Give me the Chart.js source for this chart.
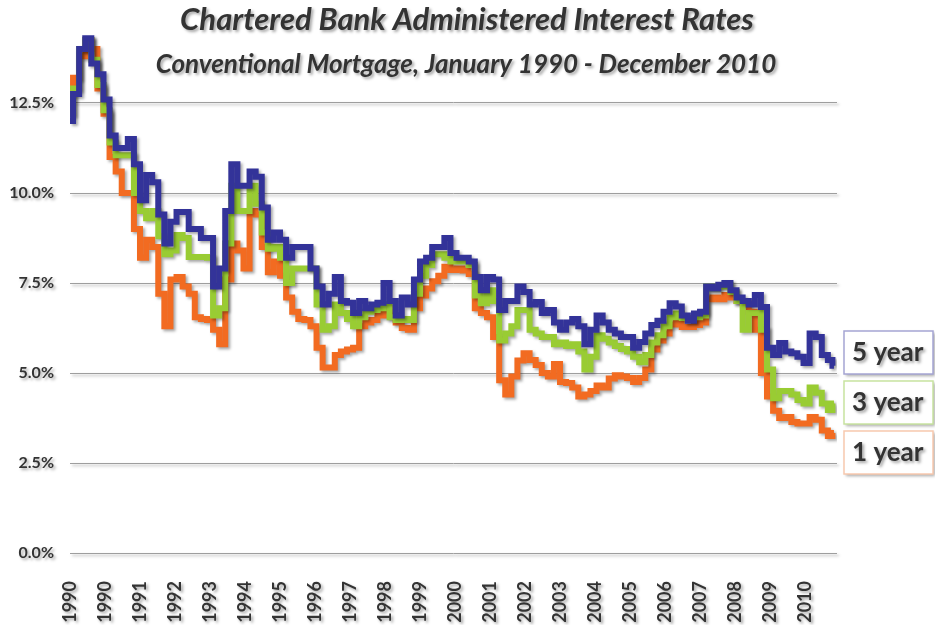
<!DOCTYPE html>
<html>
<head>
<meta charset="utf-8">
<title>Chartered Bank Administered Interest Rates</title>
<script src="https://cdn.jsdelivr.net/npm/chart.js@4.4.1/dist/chart.umd.min.js"></script>
<style>
  html, body { margin: 0; padding: 0; background: #fff; }
  #chart { display: block; }
</style>
</head>
<body>
<canvas id="chart" width="935" height="625"></canvas>
<script>
'use strict';

// month index counted from January 1990 (read every second month)
var months = [
  0, 2, 4, 6, 8, 10, 12, 14, 16, 18, 20, 22, 24, 26, 28, 30, 32, 34, 36, 38, 40, 42, 44, 46,
  48, 50, 52, 54, 56, 58, 60, 62, 64, 66, 68, 70, 72, 74, 76, 78, 80, 82, 84, 86, 88, 90, 92, 94,
  96, 98, 100, 102, 104, 106, 108, 110, 112, 114, 116, 118, 120, 122, 124, 126, 128, 130,
  132, 134, 136, 138, 140, 142, 144, 146, 148, 150, 152, 154, 156, 158, 160, 162, 164, 166,
  168, 170, 172, 174, 176, 178, 180, 182, 184, 186, 188, 190, 192, 194, 196, 198, 200, 202,
  204, 206, 208, 210, 212, 214, 216, 218, 220, 222, 224, 226, 228, 230, 232, 234, 236, 238,
  240, 242, 244, 246, 248, 250, 251
];

var rate5yr = [
  12.0, 12.75, 14.0, 14.3, 13.6, 13.3,
  12.6, 11.6, 11.25, 11.25, 11.5, 10.8,
  9.8, 10.5, 10.3, 9.4, 8.6, 9.2,
  9.47, 9.47, 9.0, 9.0, 8.75, 8.75,
  7.4, 7.9, 9.5, 10.8, 10.2, 10.2,
  10.6, 10.45, 9.6, 8.7, 8.9, 8.7,
  8.2, 8.5, 8.5, 8.5, 7.9, 7.4,
  6.9, 7.2, 7.67, 7.0, 6.95, 6.67,
  7.0, 6.8, 6.9, 6.95, 7.5, 7.0,
  6.6, 7.1, 6.9, 7.6, 8.1, 8.2,
  8.5, 8.5, 8.75, 8.33, 8.2, 8.2,
  8.1, 7.67, 7.3, 7.67, 7.6, 6.75,
  7.0, 7.0, 7.4, 7.25, 6.9, 6.97,
  6.67, 6.75, 6.4, 6.2, 6.4, 6.5,
  6.3, 5.8, 6.2, 6.6, 6.4, 6.2,
  6.1, 6.0, 6.0, 5.7, 5.86, 6.1,
  6.33, 6.45, 6.7, 6.94, 6.85, 6.6,
  6.45, 6.65, 6.7, 7.4, 7.35, 7.45,
  7.5, 7.3, 7.1, 7.0, 6.9, 7.17,
  6.83, 5.7, 5.5, 5.83, 5.6, 5.55,
  5.45, 5.28, 6.1, 6.0, 5.5, 5.36, 5.2
];

var rate3yr = [
  12.2, 12.9, 14.0, 14.25, 13.7, 13.0,
  12.3, 11.4, 11.05, 11.05, 11.05, 10.0,
  9.5, 9.3, 9.5, 8.8, 8.3, 8.4,
  8.83, 8.75, 8.22, 8.22, 8.22, 8.2,
  6.6, 6.8, 8.6, 10.2, 9.5, 9.5,
  10.2, 9.7, 8.9, 8.45, 8.5, 8.2,
  7.5, 7.9, 7.9, 7.9, 7.9, 6.9,
  6.2, 6.3, 6.9, 6.67, 6.5, 6.3,
  6.55, 6.7, 6.75, 6.8, 6.9, 6.55,
  6.47, 6.5, 6.47, 7.2, 7.7, 8.0,
  8.3, 8.3, 8.2, 8.1, 8.1, 8.1,
  8.0, 7.15, 6.94, 7.3, 7.0, 5.9,
  6.1, 6.3, 6.75, 6.75, 6.2, 6.1,
  6.0, 6.0, 5.8, 5.85, 5.75, 5.8,
  5.6, 5.1, 5.45, 6.05, 5.95, 5.85,
  5.75, 5.67, 5.6, 5.45, 5.3, 5.5,
  5.85, 6.05, 6.3, 6.55, 6.65, 6.53,
  6.47, 6.55, 6.6, 7.4, 7.35, 7.4,
  7.45, 7.25, 7.0, 6.2, 6.67, 6.67,
  6.2, 5.1, 4.3, 4.5, 4.5, 4.4,
  4.25, 4.15, 4.6, 4.45, 4.15, 3.97, 4.15
];

var rate1yr = [
  12.75, 13.2, 13.8, 14.25, 14.0, 12.9,
  12.2, 11.0, 10.6, 10.0, 10.0, 9.0,
  8.2, 8.7, 8.5, 7.2, 6.3, 7.6,
  7.67, 7.4, 7.2, 6.55, 6.5, 6.47,
  6.2, 5.8, 7.6, 8.6, 8.4, 7.9,
  9.5, 9.4, 8.5, 7.8, 8.1, 7.7,
  7.1, 6.7, 6.5, 6.47, 6.3, 5.7,
  5.15, 5.15, 5.5, 5.6, 5.65, 5.7,
  6.3, 6.4, 6.47, 6.6, 6.8, 6.6,
  6.4, 6.25, 6.2, 6.8, 7.15, 7.35,
  7.55, 7.7, 7.95, 7.86, 7.9, 7.85,
  7.75, 6.8, 6.67, 6.55, 6.0, 4.8,
  4.4, 4.9, 5.35, 5.55, 5.36, 5.22,
  5.0, 4.9, 5.25, 4.75, 4.72, 4.6,
  4.35, 4.4, 4.5, 4.65, 4.6, 4.85,
  4.94, 4.9, 4.86, 4.75, 4.86, 5.1,
  5.65, 5.9, 6.1, 6.35, 6.4, 6.28,
  6.28, 6.33, 6.4, 7.05, 7.1, 7.05,
  7.17, 7.1, 7.0, 6.95, 6.7, 6.2,
  5.0, 4.35, 3.95, 3.75, 3.78, 3.64,
  3.6, 3.6, 3.78, 3.7, 3.4, 3.25, 3.33
];

var seriesNames = ['5 year', '3 year', '1 year'];
var seriesColors = ['#333399', '#99CC33', '#F26B21'];
var boxBorders = ['#A5A5D3', '#C8E3A0', '#F8C9AE'];

var yTicks = [0, 2.5, 5, 7.5, 10, 12.5];
var xTickLabels = ['1990', '1990', '1991', '1992', '1993', '1994', '1995', '1996', '1997', '1998', '1999',
  '2000', '2001', '2002', '2003', '2004', '2005', '2006', '2007', '2008', '2009', '2010'];
var monthsPerLabel = 11.5; // excel dropped a label every 50 weeks

var titleText = 'Chartered Bank Administered Interest Rates';
var subtitleText = 'Conventional Mortgage, January 1990 - December 2010';

function points(values) {
  return months.map(function (m, i) { return { x: m, y: values[i] }; });
}

var allRates = [rate5yr, rate3yr, rate1yr];
var datasets = allRates.map(function (values, i) {
  return {
    label: seriesNames[i],
    data: points(values),
    borderColor: seriesColors[i],
    backgroundColor: seriesColors[i],
    borderWidth: 6,
    borderJoinStyle: 'miter',
    borderCapStyle: 'butt',
    pointRadius: 0,
    stepped: 'middle',
    fill: false
  };
});

// soft grey drop shadow on everything, plus titles and the boxed series names
var decorPlugin = {
  id: 'decor',
  beforeDraw: function (chart) {
    var ctx = chart.ctx;
    ctx.save();
    ctx.shadowColor = 'rgba(0,0,0,0.35)';
    ctx.shadowBlur = 3;
    ctx.shadowOffsetX = 2;
    ctx.shadowOffsetY = 2;
  },
  afterDraw: function (chart) {
    var ctx = chart.ctx;
    ctx.fillStyle = '#333333';
    ctx.textAlign = 'center';
    ctx.textBaseline = 'middle';
    ctx.font = 'italic bold 31px Lato';
    ctx.fillText(titleText, 467, 20);
    ctx.font = 'italic bold 26px Lato';
    ctx.fillText(subtitleText, 466, 65);

    var boxTops = [331, 381, 431];
    for (var i = 0; i < seriesNames.length; i++) {
      ctx.fillStyle = '#ffffff';
      ctx.fillRect(844, boxTops[i], 89, 43);
      ctx.save();
      ctx.shadowColor = 'rgba(0,0,0,0)';
      ctx.strokeStyle = boxBorders[i];
      ctx.lineWidth = 1.5;
      ctx.strokeRect(844, boxTops[i], 89, 43);
      ctx.restore();
      ctx.fillStyle = '#333333';
      ctx.textAlign = 'left';
      ctx.font = 'bold 26px Lato';
      ctx.fillText(seriesNames[i], 852, boxTops[i] + 22);
    }
    ctx.restore();
  }
};

var tickFont = { family: 'Lato', weight: 'bold', size: 16 };

new Chart(document.getElementById('chart'), {
  type: 'line',
  data: { datasets: datasets },
  plugins: [decorPlugin],
  options: {
    responsive: false,
    animation: false,
    devicePixelRatio: 1,
    layout: { padding: { top: 13, right: 98, left: 0, bottom: 0 } },
    plugins: {
      legend: { display: false },
      tooltip: { enabled: false },
      title: { display: false }
    },
    scales: {
      x: {
        type: 'linear',
        min: 0,
        max: 252,
        afterBuildTicks: function (axis) {
          axis.ticks = xTickLabels.map(function (lab, k) { return { value: k * monthsPerLabel }; });
        },
        afterFit: function (axis) { axis.height = 72; },
        ticks: {
          autoSkip: false,
          minRotation: 90,
          maxRotation: 90,
          padding: 20,
          color: '#333333',
          font: { family: 'Lato', weight: 'bold', size: 18 },
          callback: function (v, i) { return xTickLabels[i]; }
        },
        grid: { display: false },
        border: { display: false }
      },
      y: {
        min: 0,
        max: 15,
        afterBuildTicks: function (axis) {
          axis.ticks = yTicks.map(function (v) { return { value: v }; });
        },
        afterFit: function (axis) {
          axis.width = 70;
          axis.paddingTop = 0; // top tick is 12.5, no label sits at the top edge
        },
        ticks: {
          padding: 16,
          color: '#333333',
          font: tickFont,
          callback: function (v) { return v.toFixed(1) + '%'; }
        },
        grid: { color: '#9E9E9E', lineWidth: 1, drawTicks: false },
        border: { display: false }
      }
    }
  }
});
</script>
</body>
</html>
